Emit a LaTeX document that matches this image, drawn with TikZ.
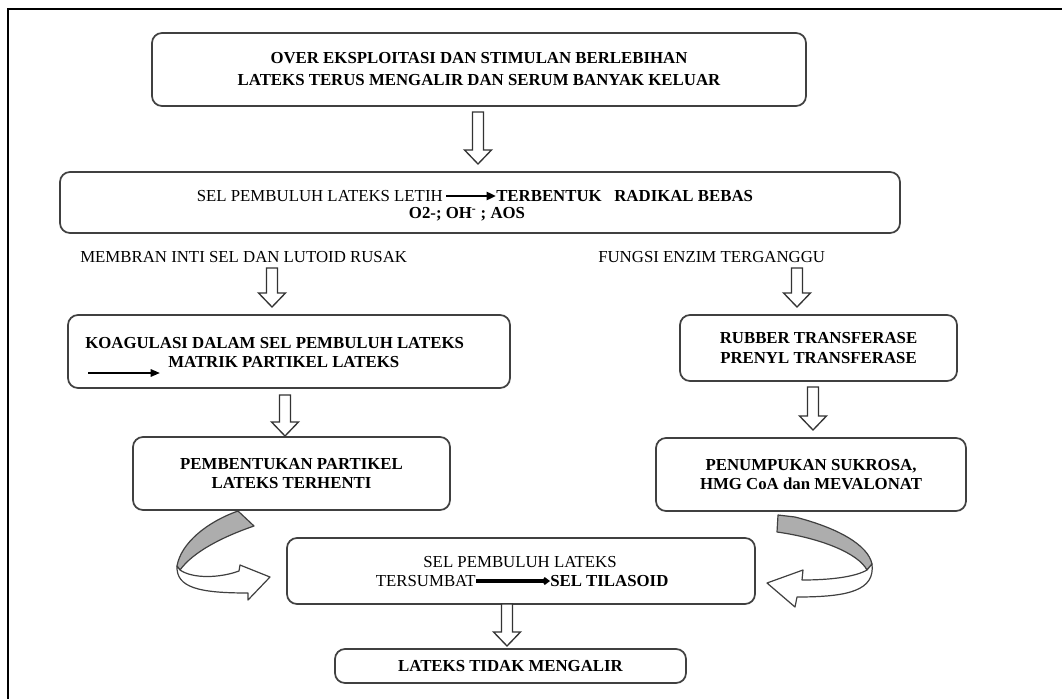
\documentclass[tikz,border=0pt]{standalone}
\usepackage{fontspec}
\setmainfont{Liberation Serif}
\usetikzlibrary{calc,arrows.meta}
\newcommand\hollowdown[2]{\draw[hollow] let \p1=#1, \p2=#2 in (\x1-4.1pt,\y1) -- (\x1-4.1pt,\y2+10.5pt) -- (\x1-10.1pt,\y2+10.5pt) -- (\x1,\y2) -- (\x1+10.1pt,\y2+10.5pt) -- (\x1+4.1pt,\y2+10.5pt) -- (\x1+4.1pt,\y1) -- cycle;}
\begin{document}
\begin{tikzpicture}[x=0.75pt,y=-0.75pt,
  box/.style={draw=black!75, line width=1.3pt, rounded corners=7.5pt, fill=white, inner sep=0pt, align=center, font=\fontsize{12.6}{14.5}\selectfont\bfseries},
  txt/.style={inner sep=0pt, font=\fontsize{12.6}{14.5}\selectfont},
  btxt/.style={inner sep=0pt, font=\fontsize{12.6}{14.5}\selectfont\bfseries},
  hollow/.style={draw=black!80, line width=1pt, fill=white},
  thinarrow/.style={line width=1.5pt, -{Triangle[length=7pt,width=5.5pt]}},
  midarrow/.style={line width=2pt, -{Triangle[length=7pt,width=6pt]}},
  thickarrow/.style={line width=2.3pt, -{Kite[length=6pt,width=6pt,inset=2pt]}},
  curved/.style={draw=black!75, line width=0.9pt, line join=round}
]
\useasboundingbox (0,0) rectangle (1062,699);
\fill[white] (0,0) rectangle (1062,699);
% frame
\draw[line width=2.2pt] (8,699) -- (8,9) -- (1062,9);

% boxes
\node[box, minimum width=490.5pt, minimum height=54.75pt, font=\fontsize{12.6}{16.5}\selectfont\bfseries] (b1) at (479,69.5) {OVER EKSPLOITASI DAN STIMULAN BERLEBIHAN\\LATEKS TERUS MENGALIR DAN SERUM BANYAK KELUAR};
\node[box, minimum width=630pt, minimum height=45.75pt] (b2) at (480,202.5) {};
\node[box, minimum width=331.5pt, minimum height=54.75pt] (b3l) at (289,351.5) {};
\node[box, minimum width=237.75pt, minimum height=54.75pt] (b4l) at (291.5,473.5) {PEMBENTUKAN PARTIKEL\\LATEKS TERHENTI};
\node[box, minimum width=207.75pt, minimum height=49.5pt] (b3r) at (818.5,348) {RUBBER TRANSFERASE\\PRENYL TRANSFERASE};
\node[box, minimum width=232.5pt, minimum height=54.75pt, text depth=0pt] (b4r) at (811,474.5) {PENUMPUKAN SUKROSA,\\HMG CoA dan MEVALONAT};
\node[box, minimum width=351pt, minimum height=49.5pt] (b5) at (521,571) {};
\node[box, minimum width=263.25pt, minimum height=25.5pt] (b6) at (510.5,666) {LATEKS TIDAK MENGALIR};

% box 2 text
\node[txt, anchor=east] (t2a) at (443,196) {SEL PEMBULUH LATEKS LETIH};
\node[btxt, anchor=west] (t2b) at (496,196) {TERBENTUK\ \ \ RADIKAL BEBAS};
\draw[midarrow] (t2a.east) ++(3,0) coordinate (t2s) (t2s) -- (t2b.west);
\node[btxt] (t2c) at (467,214) {O2-; OH\textsuperscript{-} ; AOS};

% side labels
\node[txt, anchor=west] (lm) at (80,257) {MEMBRAN INTI SEL DAN LUTOID RUSAK};
\node[txt, anchor=west] (lf) at (598,257) {FUNGSI ENZIM TERGANGGU};

% box 3 left text
\node[btxt, anchor=west] (t3a) at (85,343) {KOAGULASI DALAM SEL PEMBULUH LATEKS};
\node[btxt, anchor=west] (t3b) at (168,362) {MATRIK PARTIKEL LATEKS};
\coordinate (k1) at (88,373);
\coordinate (k2) at (160,373);
\draw[thinarrow] (k1) -- (k2);

% box 5 text
\node[txt] (t5a) at (520,562) {SEL PEMBULUH LATEKS};
\node[txt, anchor=east] (t5b) at (476,581) {TERSUMBAT};
\node[btxt, anchor=west] (t5c) at (550,581) {SEL TILASOID};
\draw[thickarrow] (t5b.east) -- (t5c.west);

% hollow arrows
\coordinate (a1s) at (478,112); \coordinate (a1e) at (478,164);
\coordinate (a2ls) at (272,268); \coordinate (a2le) at (272,307);
\coordinate (a2rs) at (797,268); \coordinate (a2re) at (797,307);
\coordinate (a3ls) at (285,395); \coordinate (a3le) at (285,436);
\coordinate (a3rs) at (813,387); \coordinate (a3re) at (813,430);
\coordinate (a4s) at (507,604); \coordinate (a4e) at (507,646);
\hollowdown{(a1s)}{(a1e)}
\hollowdown{(a2ls)}{(a2le)}
\hollowdown{(a2rs)}{(a2re)}
\hollowdown{(a3ls)}{(a3le)}
\hollowdown{(a3rs)}{(a3re)}
\hollowdown{(a4s)}{(a4e)}

% left curved arrow
\filldraw[curved, fill=black!32] (238,511) -- (254,526) .. controls (222,537) and (193,552) .. (180,570) -- (177,566) .. controls (181,543) and (207,522) .. (238,511) -- cycle;
\filldraw[curved, fill=white] (177,566) .. controls (176,588) and (200,593) .. (248,593) -- (248,600) -- (270,577) -- (240,565) -- (239,571) .. controls (220,578) and (193,579) .. (180,570) -- cycle;

% right curved arrow
\filldraw[curved, fill=black!32] (778,515) -- (795,517) .. controls (838,528) and (868,545) .. (872,564) -- (867,570) .. controls (858,553) and (820,538) .. (777,532) -- cycle;
\filldraw[curved, fill=white] (872,564) .. controls (875,590) and (850,597) .. (797,597) -- (795,607) -- (767,583) -- (803,570) -- (802,580) .. controls (830,580) and (855,577) .. (867,570) -- cycle;
\end{tikzpicture}
\end{document}
